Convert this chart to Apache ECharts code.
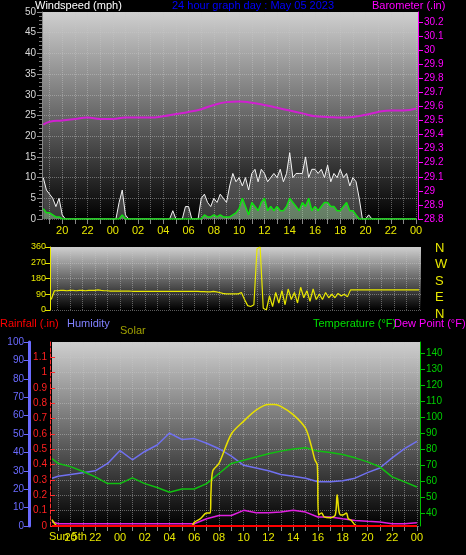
<!DOCTYPE html>
<html><head><meta charset="utf-8">
<script src="https://cdn.jsdelivr.net/npm/echarts@6/dist/echarts.min.js"></script>
<style>html,body{margin:0;background:#000}#c{width:466px;height:555px}</style>
</head><body><div id="c"></div>
<script>
// wind: 15-min samples from 18:30 (hour 18.5) to 00:00 (hour 48)
const windStart = 18.5, windStep = 0.25;
const gust = [10,7,6,5,3,5,
 1,0,0,0,0,0,0,0, 0,0,0,0,0,0,0,0,
 0,0,4,7,1,0,0,0, 0,0,0,0,0,0,0,0,
 0,0,0,2,0,0,0,3, 3,0,0,0,5,6,4,3,
 5,4,6,5,4,8,11,9, 10,8,10,7,11,12,9,12,
 11,9,10,11,10,12,9,11, 16,10,11,11,11,15,10,12,
 12,11,12,10,13,9,11,10, 12,10,11,8,10,9,5,0,
 0,1,0,0,0,0,0,0, 0,0,0,0,0,0,0,0, 0];
const avgWind = [2.5,1.5,1.5,1,0.5,0.5,
 0,0,0,0,0,0,0,0, 0,0,0,0,0,0,0,0,
 0,0,0,1,0,0,0,0, 0,0,0,0,0,0,0,0,
 0,0,0,0,0,0,0,0, 0,0,0,0,0,1,0.5,0.5,
 1,0.5,1,0.5,0.5,0.5,1,1.5, 2.5,5,3,1,4,3,2,4,
 5,2,3,2,3,2,2,3, 5,4,3,2,4,3,5,2,
 3,2,3,4,4,3,3,2, 2,3,4,2,2,1,0,0,
 0,0,0,0,0,0,0,0, 0,0,0,0,0,0,0,0, 0];
const windDir = [60,110,110,112,112,110,
 112,112,110,112,112,110,112,112, 112,115,112,110,110,108,108,108,
 108,108,108,108,107,107,107,107,107,107,107,107,106,106,106,106,106,106,106,106,106,106,106,106,
 106,106,105,105,104,104,106,104, 100,95,92,92,92,92,92,100,
 60,25,20,30,350,360,10,0,
 80,20,100,40, 110,30,120,60, 100,40,130,70, 110,50,120,60,
 90,60,100,70, 90,70,95,80, 90,75,115,115,
 115,115,115,115,115,115,115,115,115,115,115,115,115,115,115,115,115,115,115,115, 115];
// hourly samples
const hourT = [18.5,19,20,21,22,23,24,25,26,27,28,29,30,31,32,33,34,35,36,37,38,39,40,41,42,43,44,45,46,47,48];
const baro = [29.47,29.49,29.50,29.51,29.52,29.51,29.51,29.52,29.52,29.52,29.53,29.545,29.56,29.58,29.61,29.63,29.635,29.625,29.61,29.59,29.57,29.55,29.53,29.525,29.52,29.525,29.54,29.56,29.57,29.57,29.585];
const humidity = [26,27,28,29,30,34,41,36,40.5,44,50.5,47,47.5,45,42,38,33,31.5,30,28,27,26,24,24,24.6,26,29,31.5,37,42,46];
const temperature = [74,71,69,66,62.6,58.4,58.4,62,58.4,56,53,55,55,58.4,64.7,71,73,75,77,78.7,80,80.8,78.7,77.9,76.6,74.5,72,68.9,62.6,59.5,56.3];
const dewPoint = [34.5,33.3,33.3,33.3,33.3,33.3,33.3,33.3,33.3,33.3,33.3,33.3,33.3,36.4,38.5,38.5,41.7,40.2,40.2,40.6,41.7,40.6,37.5,37.5,36.4,35.4,34.8,34.4,33.3,33.3,33.9];
const rainfall = [0,0,0,0,0,0,0,0,0,0,0,0,0,0,0,0,0,0,0,0,0,0,0,0,0,0,0,0,0,0,0];
const solarT = [18.5,18.75,19,29.8,30,30.5,31,31.3,31.35,31.5,32,33,34,35,36,36.5,37,38,39,39.5,39.75,39.95,40.05,40.3,40.5,41,41.4,41.55,41.7,41.85,42,42.3,42.45,42.7,43,43.25,48];
const solarV = [35,10,0,0,20,40,70,70,180,300,340,500,570,630,660,660,650,605,530,425,360,330,60,70,50,45,60,170,80,60,60,70,40,30,5,0,0];
const hourTicks = [19,20,21,22,23,24,25,26,27,28,29,30,31,32,33,34,35,36,37,38,39,40,41,42,43,44,45,46,47,48];
const hourLabels = [20,22,24,26,28,30,32,34,36,38,40,42,44,46,48];

const wt = gust.map((_, i) => windStart + i * windStep);
const pair = (t, v) => t.map((x, i) => [x, v[i]]);
const fmtH = v => { const h = Math.round(v) % 24; return (h < 10 ? '0' : '') + h; };
const bg = new echarts.graphic.LinearGradient(0,0,0,1,[{offset:0,color:'#cfcfcf'},{offset:1,color:'#000'}]);
const dot = {show:true,lineStyle:{color:'rgba(200,200,200,0.45)',type:'dotted',width:1}};
const F = 'Liberation Sans';
const xBase = (gi, min, max, labels) => ({
  type:'value', gridIndex:gi, min, max,
  axisLine:{show:false},
  axisTick:{show:labels, customValues:hourTicks, lineStyle:{color:'#888'}},
  axisLabel:{show:labels, customValues:hourLabels, color:'#e8e800', fontFamily:F, fontSize:11, margin:6,
    hideOverlap:false, showMinLabel:true, showMaxLabel:true, formatter: fmtH},
  splitLine:dot
});
const chart = echarts.init(document.getElementById('c'));
chart.setOption({
  backgroundColor:'#000',
  animation:false,
  textStyle:{fontFamily:F},
  grid:[
    {left:42, right:48, top:12, height:207, show:true, backgroundColor:bg, borderWidth:0},
    {left:50, right:45, top:247, height:63, show:true, backgroundColor:bg, borderWidth:0},
    {left:52, right:46, top:342, height:184, show:true, backgroundColor:bg, borderWidth:0}
  ],
  graphic:[
    {type:'text', left:35, top:0, style:{text:'Windspeed (mph)', fill:'#fff', font:'11px '+F}},
    {type:'text', left:172, top:0, style:{text:'24 hour graph day : May 05 2023', fill:'#0000ff', font:'11px '+F}},
    {type:'text', left:372, top:0, style:{text:'Barometer (.in)', fill:'#ff00ff', font:'11px '+F}},
    {type:'text', left:435, top:240, style:{text:'N\nW\nS\nE\nN', fill:'#e8e800', font:'13px '+F, lineHeight:16.5}},
    {type:'text', left:0, top:318, style:{text:'Rainfall (.in)', fill:'#ff0000', font:'11px '+F}},
    {type:'text', left:67, top:318, style:{text:'Humidity', fill:'#8080ff', font:'11px '+F}},
    {type:'text', left:120, top:325, style:{text:'Solar', fill:'#a0a000', font:'11px '+F}},
    {type:'text', left:313, top:318, style:{text:'Temperature (°F)', fill:'#00e000', font:'11px '+F}},
    {type:'text', left:394, top:318, style:{text:'Dew Point (°F)', fill:'#ff00ff', font:'11px '+F}},
    {type:'text', left:49, top:531, style:{text:'Sun 5th', fill:'#e8e800', font:'11px '+F}}
  ],
  xAxis:[
    xBase(0, 18.4, 48.15, true),
    xBase(1, 18.4, 48.15, false),
    xBase(2, 18.5, 48.25, true)
  ],
  yAxis:[
    {type:'value', gridIndex:0, min:0, max:50, interval:5,
     axisLine:{show:true, lineStyle:{color:'#888'}}, axisTick:{show:true, lineStyle:{color:'#888'}},
     minorTick:{show:true, splitNumber:5, lineStyle:{color:'#777'}},
     axisLabel:{color:'#d8d8d8', fontSize:10, margin:6}, splitLine:dot},
    {type:'value', gridIndex:0, position:'right', min:28.8, max:30.27, interval:0.1,
     axisLine:{show:true, lineStyle:{color:'#ff00ff'}}, axisTick:{show:true, lineStyle:{color:'#ff00ff'}},
     axisLabel:{color:'#ff00ff', fontSize:10, margin:6, showMaxLabel:false, formatter:v=>String(parseFloat(v.toFixed(1)))},
     splitLine:{show:false}},
    {type:'value', gridIndex:1, min:0, max:360, interval:90,
     axisLine:{show:true, lineStyle:{color:'#e8e800'}}, axisTick:{show:true, lineStyle:{color:'#e8e800'}},
     axisLabel:{color:'#e8e800', fontSize:9, margin:4}, splitLine:dot},
    {type:'value', gridIndex:2, position:'left', offset:23, min:0, max:100, interval:10,
     axisLine:{show:true, lineStyle:{color:'#6a6aff', width:3}}, axisTick:{show:true, lineStyle:{color:'#6a6aff'}},
     axisLabel:{color:'#6a6aff', fontSize:10, margin:5}, splitLine:{show:false}},
    {type:'value', gridIndex:2, position:'left', offset:2, min:0, max:1.2, interval:0.1,
     axisLine:{show:true, lineStyle:{color:'#ff3030', type:'dashed'}}, axisTick:{show:true, inside:true, lineStyle:{color:'#ff3030'}},
     axisLabel:{color:'#ff2020', fontSize:10, margin:3, showMaxLabel:false, formatter:v=>String(parseFloat(v.toFixed(1)))},
     splitLine:dot},
    {type:'value', gridIndex:2, position:'right', min:31.9, max:146.9,
     axisLine:{show:true, lineStyle:{color:'#00c000'}},
     axisTick:{show:true, customValues:[40,50,60,70,80,90,100,110,120,130,140], lineStyle:{color:'#00c000'}},
     axisLabel:{color:'#00d000', fontSize:10, margin:6, customValues:[40,50,60,70,80,90,100,110,120,130,140]},
     splitLine:{show:false}},
    {type:'value', gridIndex:2, min:0, max:1000, show:false, splitLine:{show:false}}
  ],
  series:[
    {type:'line', xAxisIndex:0, yAxisIndex:0, data:pair(wt,gust), symbol:'none',
     lineStyle:{color:'#f4f4f4', width:1}, areaStyle:{color:'rgba(235,235,235,0.35)'}},
    {type:'line', xAxisIndex:0, yAxisIndex:0, data:pair(wt,avgWind), symbol:'none',
     lineStyle:{color:'#10e010', width:1.5}, areaStyle:{color:'rgba(170,235,170,0.55)'}},
    {type:'line', xAxisIndex:0, yAxisIndex:1, data:pair(hourT,baro), symbol:'none', smooth:true,
     lineStyle:{color:'#d020d0', width:2}},
    {type:'line', xAxisIndex:1, yAxisIndex:2, data:pair(wt,windDir), symbol:'none',
     lineStyle:{color:'#e8e800', width:1.2}},
    {type:'line', xAxisIndex:2, yAxisIndex:3, data:pair(hourT,humidity), symbol:'none',
     lineStyle:{color:'#7070f0', width:1.5}},
    {type:'line', xAxisIndex:2, yAxisIndex:5, data:pair(hourT,temperature), symbol:'none',
     lineStyle:{color:'#10c010', width:1.5}},
    {type:'line', xAxisIndex:2, yAxisIndex:5, data:pair(hourT,dewPoint), symbol:'none',
     lineStyle:{color:'#e020e0', width:1.5}},
    {type:'line', xAxisIndex:2, yAxisIndex:6, data:pair(solarT,solarV), symbol:'none', smooth:0.3,
     lineStyle:{color:'#e8e000', width:1.5}},
    {type:'line', xAxisIndex:2, yAxisIndex:4, data:pair(hourT,rainfall), symbol:'none',
     lineStyle:{color:'#ff0000', width:2}}
  ]
});
</script></body></html>
